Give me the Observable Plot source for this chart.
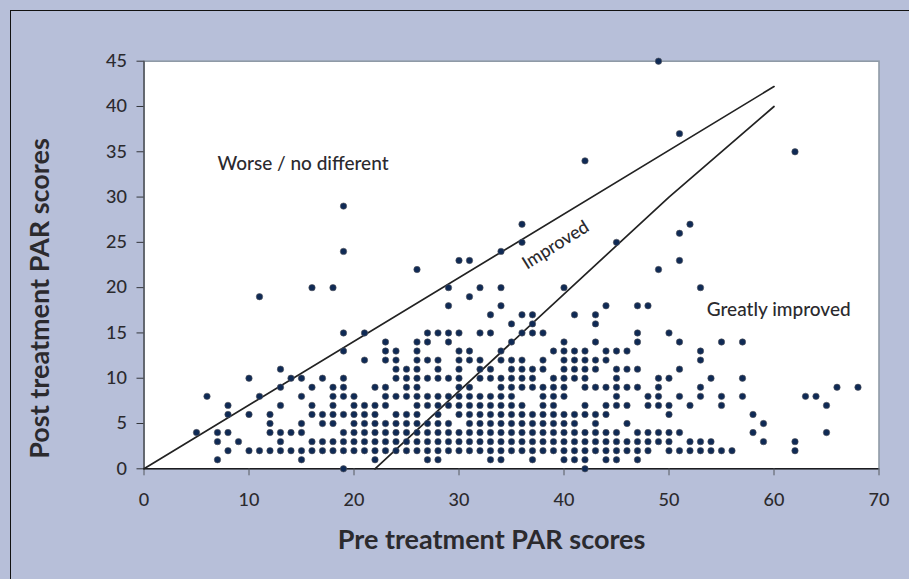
<!DOCTYPE html>
<html>
<head>
<meta charset="utf-8">
<script src="https://cdn.jsdelivr.net/npm/d3@7"></script>
<script src="https://cdn.jsdelivr.net/npm/@observablehq/plot@0.6"></script>
<style>
html,body{margin:0;padding:0;width:909px;height:579px;overflow:hidden;background:#b7bfd9;}
#chart svg{display:block;}
#edge{position:absolute;left:10px;top:10px;right:0;bottom:0;border-left:1px solid #111;border-top:1px solid #111;pointer-events:none;}
</style>
</head>
<body>
<div id="chart"></div>
<div id="edge"></div>
<script>
const xTicks = [0,10,20,30,40,50,60,70];
const yTicks = [0,5,10,15,20,25,30,35,40,45];
const xTitle = "Pre treatment PAR scores";
const yTitle = "Post treatment PAR scores";
const postScores = [0,1,2,3,4,5,6,7,8,9,10,11,12,13,14,15,16,17,18,19,20,22,23,24,25,26,27,29,34,35,37,45];
const preByPost = [
  [19,42],
  [7,15,22,27,28,33,34,37,40,41,42,44,45,47],
  [8,10,11,12,13,14,15,16,17,18,19,20,21,22,23,24,25,26,27,28,29,30,31,32,33,34,35,36,37,38,39,40,41,42,43,44,45,46,47,48,50,51,52,53,54,55,56,62],
  [7,9,13,16,17,18,19,20,21,22,23,24,25,26,27,28,29,30,31,32,33,34,35,36,37,38,39,40,41,42,43,44,45,46,47,48,49,50,52,53,54,59,62],
  [5,7,8,12,13,14,15,19,20,21,22,23,24,25,26,27,28,29,30,31,32,33,34,35,36,37,38,39,40,41,42,43,44,45,47,48,49,50,51,58,65],
  [12,15,17,18,20,21,22,23,24,25,26,27,28,29,31,32,33,34,35,36,37,38,39,40,41,43,46,59],
  [8,10,12,16,17,18,19,20,21,22,24,25,26,28,30,31,32,33,34,35,36,37,38,39,40,41,42,43,44,50,58],
  [8,13,16,18,20,21,22,23,26,27,28,29,30,31,32,33,34,35,36,38,39,42,44,45,46,48,49,50,52,55,65],
  [6,11,15,18,19,20,23,24,25,26,27,28,29,30,31,32,33,34,35,38,39,40,45,48,49,51,53,55,57,63,64],
  [13,16,18,19,22,23,25,26,30,31,34,35,36,37,38,39,40,42,43,44,45,46,47,49,53,66,68],
  [10,14,15,17,19,24,25,26,27,28,29,30,32,33,34,35,36,37,39,40,41,42,45,49,50,54,57],
  [13,24,25,26,28,30,32,33,35,36,37,38,40,41,42,43,45,46,47,51],
  [21,23,24,26,27,28,30,31,32,34,35,36,38,40,41,42,43,44,53],
  [19,23,24,26,30,31,34,39,40,41,42,44,45,46,53],
  [23,26,27,29,35,40,43,47,51,55,57],
  [19,21,27,28,29,30,32,33,36,37,38,47,50],
  [35,37,43],
  [33,36,37,41,43],
  [29,34,44,47,48],
  [11,31],
  [16,18,29,32,34,40,53],
  [26,49],
  [30,31,51],
  [19,34],
  [36,45],
  [51],
  [36,52],
  [19],
  [42],
  [62],
  [51],
  [49]
];
const upperX = [0,60];
const upperY = [0,42.2];
const lowerX = [22,50,60];
const lowerY = [0,30,40];
const labelText = ["Worse / no different","Improved","Greatly improved"];
const labelX = [7,39.2,53.6];
const labelY = [33.7,24.7,17.5];

const patients = postScores.flatMap((post,i)=>preByPost[i].map(pre=>({pre,post})));
const font = "Lato, 'Open Sans', sans-serif";
const ink = "#2b2a2e";

const chart = Plot.plot({
  width:909, height:579,
  marginLeft:143.5, marginRight:30.5, marginTop:60.7, marginBottom:110.7,
  style:{background:"#b7bfd9", fontFamily:font, overflow:"visible"},
  x:{domain:[0,70], label:null},
  y:{domain:[0,45], label:null},
  marks:[
    Plot.frame({fill:"white", stroke:"#8f9aa6", strokeWidth:1.6}),
    Plot.ruleX([0],{stroke:"#55585f", strokeWidth:1.6}),
    Plot.ruleY([0],{stroke:"#1c1c20", strokeWidth:1.4}),
    Plot.axisX({ticks:xTicks, tickSize:7, tickPadding:17, tickFormat:d=>d, fontSize:18, fontWeight:500, stroke:"#55585f", fill:ink, label:null}),
    Plot.axisY({ticks:yTicks, tickSize:7, tickPadding:10, tickFormat:d=>d, fontSize:18, fontWeight:500, stroke:"#33353a", fill:ink, label:null}),
    Plot.line(upperX.map((x,i)=>({x,y:upperY[i]})),{x:"x",y:"y",stroke:"#222",strokeWidth:1.7}),
    Plot.line(lowerX.map((x,i)=>({x,y:lowerY[i]})),{x:"x",y:"y",stroke:"#222",strokeWidth:1.7}),
    Plot.dot(patients,{x:"pre",y:"post",r:3.2,fill:"#0f2a55",stroke:"#55565c",strokeWidth:0.6,clip:false}),
    Plot.text([0],{x:()=>labelX[0],y:()=>labelY[0],text:()=>labelText[0],textAnchor:"start",fontSize:19,fontWeight:500,fill:ink}),
    Plot.text([0],{x:()=>labelX[1],y:()=>labelY[1],text:()=>labelText[1],rotate:-32,fontSize:18,fontWeight:500,fill:ink}),
    Plot.text([0],{x:()=>labelX[2],y:()=>labelY[2],text:()=>labelText[2],textAnchor:"start",fontSize:19,fontWeight:500,fill:ink}),
    Plot.text([xTitle],{x:()=>33.1,y:()=>-7.9,text:d=>d,fontSize:27,fontWeight:700,fill:ink}),
    Plot.text([yTitle],{x:()=>-9.86,y:()=>18.8,rotate:-90,text:d=>d,fontSize:27,fontWeight:700,fill:ink})
  ]
});
document.getElementById("chart").append(chart);
</script>
</body>
</html>
